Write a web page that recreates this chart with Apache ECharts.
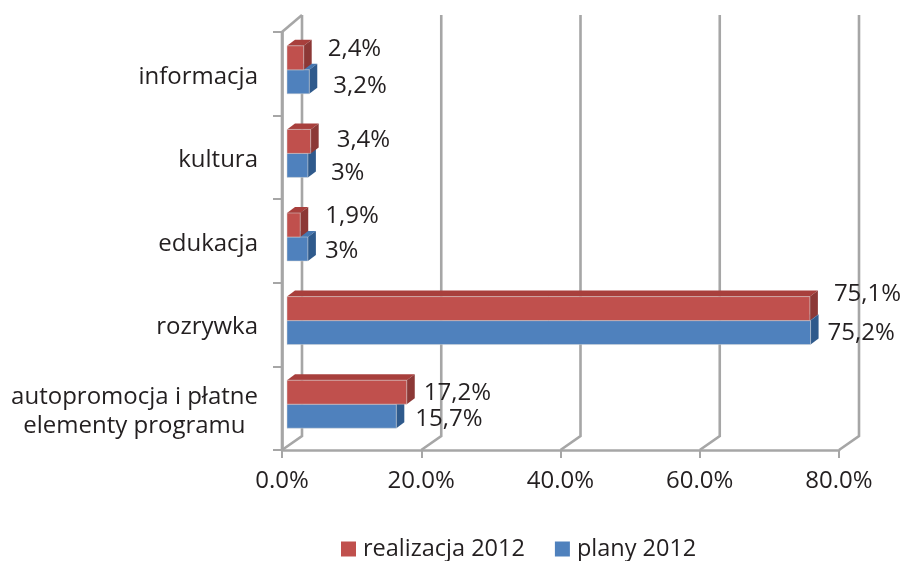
<!DOCTYPE html>
<html><head><meta charset="utf-8">
<style>html,body{margin:0;padding:0;background:#fff}#c{width:904px;height:561px}</style>
<script src="https://cdn.jsdelivr.net/npm/echarts@6/dist/echarts.min.js"></script>
</head><body><div id="c"></div>
<script>
const categories = ['autopromocja i płatne\nelementy programu\u00a0\u00a0','rozrywka','edukacja','kultura','informacja'];
const realizacja = [17.2,75.1,1.9,3.4,2.4];
const plany = [15.7,75.2,3,3,3.2];
const xTicks = [0,20,40,60,80];
const seriesNames = ['realizacja 2012','plany 2012'];

const FONT = '"Open Sans", "Noto Sans", sans-serif';
const GRID_COLOR = '#a6a6a6';
const TEXT = '#231f20';
// label nudges [gap from bar end, dy from band centre], per category
const redNudge = [[17,-15],[24,-30],[25,-25],[26,-17],[24,-25]];
const blueNudge = [[19,11],[17,9],[17,10],[23,16],[24,12]];

const fmt = v => String(v).replace('.',',') + '%';

function bar3d(colors, isRed, nudge){
  return function(params, api){
    const v = api.value(0), cat = api.value(1);
    const band = api.size([0,1])[1];
    const h = band*0.287;
    const c0 = api.coord([0,cat]), c1 = api.coord([v,cat]);
    const x0 = c0[0]+5, x1 = c1[0]+5;
    const mid = c0[1]-4;
    const y0 = isRed ? mid-h : mid, y1 = y0+h;
    const dx = 8, dy = -6;
    const n = nudge[params.dataIndex];
    return {type:'group', children:[
      {type:'polygon',shape:{points:[[x0,y0],[x0+dx,y0+dy],[x1+dx,y0+dy],[x1,y0]]},style:{fill:colors.top}},
      {type:'polygon',shape:{points:[[x1,y0],[x1+dx,y0+dy],[x1+dx,y1+dy],[x1,y1]]},style:{fill:colors.side}},
      {type:'rect',shape:{x:x0,y:y0,width:x1-x0,height:h},style:{fill:colors.front,stroke:'#d5d5d5',lineWidth:0.5}},
      {type:'text',z2:20,style:{text:fmt(v),x:x1+n[0],y:c0[1]+n[1],fill:TEXT,font:'24px '+FONT,textAlign:'left',textVerticalAlign:'middle'}}
    ]};
  };
}
const DEPTH_X = 20, DEPTH_Y = -14;
function wall(params, api){
  const v = api.value(0);
  const band = api.size([0,1])[1];
  const by = api.coord([v,0])[1] + band/2;
  const ty = api.coord([v,4])[1] - band/2;
  const x = api.coord([v,0])[0];
  const children = [{type:'polyline',shape:{points:[[x,by],[x+DEPTH_X,by+DEPTH_Y],[x+DEPTH_X,ty-17]]},
    style:{fill:'none',stroke:GRID_COLOR,lineWidth:2.6}}];
  if(v===0){
    children.push({type:'line',shape:{x1:x,y1:by,x2:x,y2:ty},style:{stroke:GRID_COLOR,lineWidth:2.6}});
    children.push({type:'line',shape:{x1:x,y1:ty,x2:x+DEPTH_X,y2:ty-17},style:{stroke:GRID_COLOR,lineWidth:2.6}});
  }
  return {type:'group',children};
}
const yData = categories.map(c => c.includes('\n')
  ? {value:c, textStyle:{verticalAlign:'top',padding:[-26,0,0,0]}}
  : {value:c, textStyle:{verticalAlign:'top',padding:[-11.5,0,0,0]}});
const chart = echarts.init(document.getElementById('c'),null,{renderer:'canvas'});
chart.setOption({
  animation:false,
  backgroundColor:'#fff',
  textStyle:{fontFamily:FONT},
  grid:{left:282,right:65,top:32,bottom:111,containLabel:false},
  legend:{data:seriesNames,left:336,top:532,itemWidth:15,itemHeight:15,itemGap:30,icon:'rect',selectedMode:false,
    textStyle:{fontSize:23.5,color:TEXT,fontFamily:FONT,padding:[0,0,0,2]}},
  xAxis:{type:'value',min:0,max:80,interval:20,
    axisLabel:{formatter:v=>v.toFixed(1)+'%',fontSize:24,color:TEXT,margin:19,fontFamily:FONT,hideOverlap:false,showMinLabel:true,showMaxLabel:true},
    axisLine:{show:true,lineStyle:{color:GRID_COLOR,width:2.6}},
    axisTick:{show:true,length:8,lineStyle:{color:GRID_COLOR,width:2}},
    splitLine:{show:false}},
  yAxis:{type:'category',data:yData,boundaryGap:true,
    axisLabel:{fontSize:24,color:TEXT,margin:24,lineHeight:29,fontFamily:FONT,interval:0},
    axisLine:{show:true,lineStyle:{color:GRID_COLOR,width:2.6}},
    axisTick:{show:true,length:9,alignWithLabel:false,lineStyle:{color:GRID_COLOR,width:2}},
    splitLine:{show:false}},
  series:[
    {type:'custom',name:'siatka',silent:true,z:1,clip:false,renderItem:wall,encode:{x:0,y:1},
      data:xTicks.map(v=>[v,0])},
    {type:'custom',name:seriesNames[1],z:3,clip:false,itemStyle:{color:'#4f81bd'},encode:{x:0,y:1},
      renderItem:bar3d({front:'#4f81bd',top:'#4677b0',side:'#2f5a8c'},false,blueNudge),
      data:plany.map((v,i)=>[v,i])},
    {type:'custom',name:seriesNames[0],z:4,clip:false,itemStyle:{color:'#c0504d'},encode:{x:0,y:1},
      renderItem:bar3d({front:'#c0504d',top:'#a83f3c',side:'#8c3836'},true,redNudge),
      data:realizacja.map((v,i)=>[v,i])}
  ]
});
</script></body></html>
